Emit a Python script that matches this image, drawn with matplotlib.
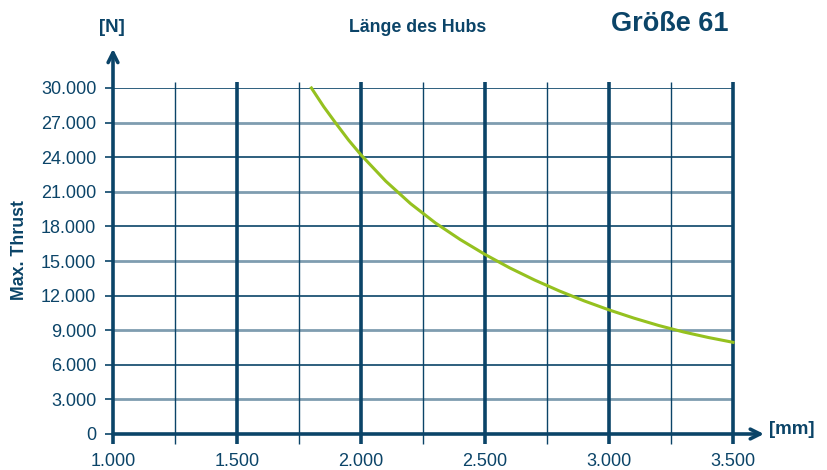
import matplotlib
matplotlib.use("Agg")
from matplotlib import pyplot as plt
import numpy as np

plt.rcParams["font.family"] = ["Liberation Sans", "DejaVu Sans"]

dark = "#0b4468"
light = "#7f9db0"
green = "#95c11f"

# stroke length [mm] vs max thrust [N]
hub_mm = [1800, 1850, 1900, 1950, 2000, 2100, 2200, 2300, 2400, 2500, 2600, 2700,
          2800, 2900, 3000, 3100, 3200, 3300, 3400, 3500]
thrust_n = [30000, 28370, 26900, 25480, 24200, 21920, 19970, 18300, 16860, 15570, 14400, 13350,
            12400, 11540, 10760, 10050, 9410, 8850, 8370, 7950]

x_major = [1000, 1500, 2000, 2500, 3000, 3500]
x_minor = [1250, 1750, 2250, 2750, 3250]
x_labels = ["1.000", "1.500", "2.000", "2.500", "3.000", "3.500"]
y_ticks = list(range(0, 30001, 3000))
y_labels = ["0"] + [f"{v // 1000}.000" for v in y_ticks[1:]]

fig = plt.figure(figsize=(8.28, 4.7), dpi=100)
ax = fig.add_axes([113 / 828, 1 - 434 / 470, 620 / 828, 346 / 470])
ax.set_xlim(1000, 3500)
ax.set_ylim(0, 30000)
for s in ax.spines.values():
    s.set_visible(False)

# horizontal grid: dark every 6000, lighter in between
for v in y_ticks[1:]:
    c = dark if v % 6000 == 0 else light
    lw = 1.2 if v % 6000 == 0 else 2.0
    ax.hlines(v, 1000, 3500, color=c, lw=lw, zorder=1)

# vertical grid
ax.vlines(x_major[1:], 0, 30500, color=dark, lw=2.6, zorder=2, clip_on=False)
ax.vlines(x_minor, 0, 30500, color=dark, lw=1.0, zorder=2, clip_on=False)

ax.plot(hub_mm, thrust_n, color=green, lw=2.2, zorder=3, clip_on=False,
        solid_joinstyle="round")

# ticks
ax.set_xticks(x_major)
ax.set_xticklabels(x_labels)
ax.set_xticks(x_minor, minor=True)
ax.set_yticks(y_ticks)
ax.set_yticklabels(y_labels)
ax.tick_params(axis="x", which="major", length=7, width=2.6, color=dark,
               labelsize=13, labelcolor=dark, pad=7)
ax.tick_params(axis="x", which="minor", length=7, width=1.0, color=dark)
ax.tick_params(axis="y", length=6, width=1.2, color=dark,
               labelsize=13, labelcolor=dark, pad=6)

# axes with arrows
arrow = dict(arrowstyle="->,head_length=0.7,head_width=0.35", color=dark,
             lw=2.6, shrinkA=0, shrinkB=0)
ax.annotate("", xy=(1000, 33400), xytext=(1000, 0), arrowprops=arrow,
            annotation_clip=False, zorder=4)
ax.annotate("", xy=(3625, 0), xytext=(1000, 0), arrowprops=arrow,
            annotation_clip=False, zorder=4)

fig.text(112 / 828, 1 - 28 / 470, "[N]", color=dark, fontsize=13.5,
         fontweight="bold", ha="center", va="center")
fig.text(792 / 828, 1 - 430 / 470, "[mm]", color=dark, fontsize=13.5,
         fontweight="bold", ha="center", va="center")
fig.text(418 / 828, 1 - 27 / 470, "Länge des Hubs", color=dark, fontsize=12.8,
         fontweight="bold", ha="center", va="center")
fig.text(670 / 828, 1 - 24 / 470, "Größe 61", color=dark, fontsize=19.5,
         fontweight="bold", ha="center", va="center")
fig.text(20 / 828, 1 - 250 / 470, "Max. Thrust", color=dark, fontsize=12.8,
         fontweight="bold", ha="center", va="center", rotation=90)

fig.savefig("out.png", dpi=100)
